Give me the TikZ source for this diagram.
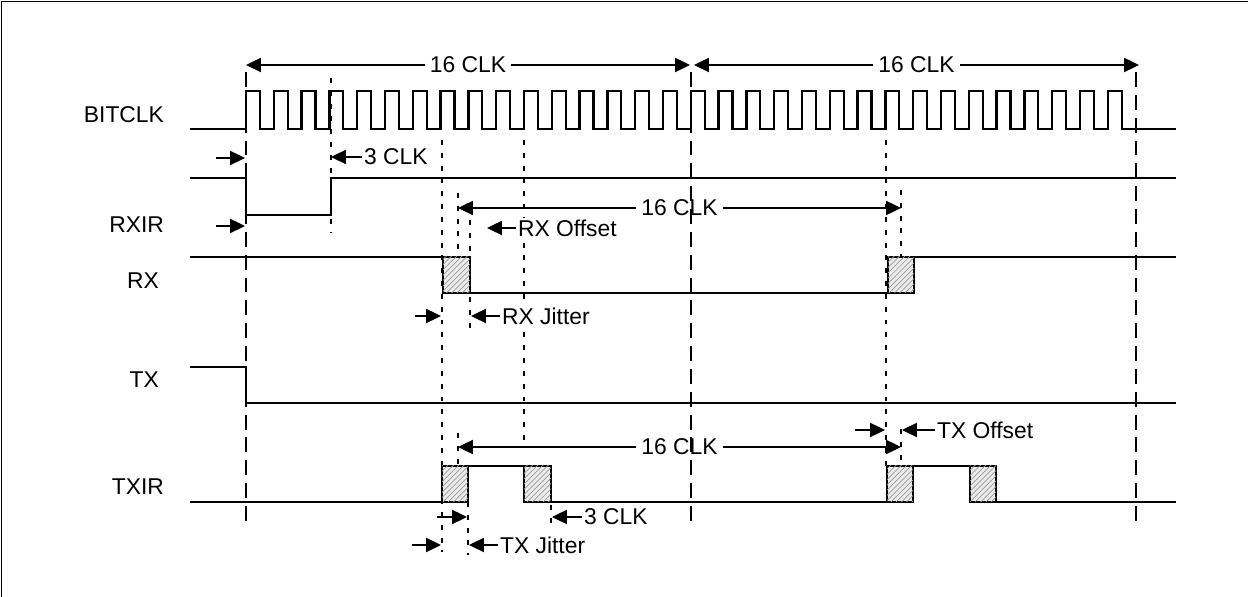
\documentclass[tikz,border=0pt]{standalone}
\usepackage{fontspec}
\setmainfont{Liberation Sans}
\usetikzlibrary{arrows.meta,patterns}

\tikzset{
  sig/.style={line width=1.3pt},
  grid line/.style={line width=1.1pt, dash pattern=on 8.5pt off 4.5pt},
  mark line/.style={line width=1.1pt, dash pattern=on 2.8pt off 4.5pt},
  dim/.style={line width=1.1pt, -{Triangle[length=8.5pt,width=8pt]}},
  dimboth/.style={line width=1.1pt, {Triangle[length=8.5pt,width=8pt]}-{Triangle[length=8.5pt,width=8pt]}},
  lbl/.style={font=\fontsize{13}{15}\selectfont, inner sep=1pt},
  note/.style={lbl, fill=white, anchor=west},
  hatch/.style={sig, fill=gray!15, postaction={pattern=north east lines, pattern color=gray!80}}
}

\begin{document}
\begin{tikzpicture}[x=0.02cm, y=-0.02cm]
  \useasboundingbox (0,0) rectangle (1248,597);
  \draw[line width=0.6pt] (1.5,597) -- (1.5,1.5) -- (1248,1.5);

  % signal names
  \node[lbl, anchor=east] (bitclk) at (166,115) {BITCLK};
  \node[lbl, anchor=east] (rxir) at (166,225) {RXIR};
  \node[lbl, anchor=east] (rx) at (161,281) {RX};
  \node[lbl, anchor=east] (tx) at (161,380) {TX};
  \node[lbl, anchor=east] (txir) at (166,487) {TXIR};

  % 16 CLK spans
  \coordinate (f0) at (246,65);
  \coordinate (f1) at (690,65);
  \coordinate (f2) at (694,65);
  \coordinate (f3) at (1139,65);
  \draw[dimboth] (f0) -- node[lbl, fill=white, inner sep=3pt] (span1) {16 CLK} (f1);
  \draw[dimboth] (f2) -- node[lbl, fill=white, inner sep=3pt] (span2) {16 CLK} (f3);
  \coordinate (rs) at (458,208);
  \coordinate (re) at (901,208);
  \draw[dimboth] (rs) -- node[lbl, fill=white, inner sep=3pt] (rspan) {16 CLK} (re);
  \coordinate (ts) at (458,447);
  \coordinate (te) at (901,447);
  \draw[dimboth] (ts) -- node[lbl, fill=white, inner sep=3pt] (tspan) {16 CLK} (te);

  % frame boundaries and marks
  \foreach \x in {246,691,1136} \draw[grid line] (\x,72) -- (\x,527);
  \draw[mark line] (331,78) -- (331,232);
  \draw[mark line] (442,140) -- (442,552);
  \draw[mark line] (524,140) -- (524,440);
  \draw[mark line] (886,140) -- (886,466);
  \draw[mark line] (458,193) -- (458,257);
  \draw[mark line] (470,220) -- (470,330);
  \draw[mark line] (901,190) -- (901,257);
  \draw[mark line] (901,429) -- (901,466);
  \draw[mark line] (458,433) -- (458,466);
  \draw[mark line] (468,502) -- (468,555);
  \draw[mark line] (551,505) -- (551,528);

  % BITCLK
  \draw[sig] (190,129) -- (246,129)
    \foreach \i in {0,...,31} { -- ({246+27.8*\i},129) -- ({246+27.8*\i},90.7)
      -- ({259.9+27.8*\i},90.7) -- ({259.9+27.8*\i},129) }
    -- (1176,129);

  % RXIR
  \draw[sig] (190,178) -- (246,178) -- (246,215) -- (331,215) -- (331,178) -- (1176,178);

  % RX
  \draw[sig] (190,257) -- (443,257);
  \draw[hatch] (443,257) rectangle (470,293);
  \draw[sig] (470,293) -- (888,293);
  \draw[hatch] (888,257) rectangle (914,293);
  \draw[sig] (914,257) -- (1176,257);

  % TX
  \draw[sig] (190,367) -- (246,367) -- (246,403) -- (1176,403);

  % TXIR
  \draw[sig] (190,502) -- (442,502);
  \draw[hatch] (442,466) rectangle (468,502);
  \draw[sig] (468,466) -- (524,466);
  \draw[hatch] (524,466) rectangle (551,502);
  \draw[sig] (551,502) -- (887,502);
  \draw[hatch] (887,466) rectangle (913,502);
  \draw[sig] (913,466) -- (970,466);
  \draw[hatch] (970,466) rectangle (996,502);
  \draw[sig] (996,502) -- (1176,502);

  % 3 CLK after frame start
  \draw[dim] (216,158) -- (245,158);
  \node[note] (clkA) at (362,157) {3 CLK};
  \draw[dim] (clkA.west) -- (331,157);
  \draw[dim] (216,226) -- (245,226);

  % RX offset and jitter
  \node[note] (rxoff) at (516,228) {RX Offset};
  \draw[dim] (rxoff.west) -- (487,228);
  \draw[dim] (415,316) -- (441,316);
  \node[note] (rxjit) at (500,316) {RX Jitter};
  \draw[dim] (rxjit.west) -- (471,316);

  % TX offset and jitter
  \draw[dim] (855,430) -- (885,430);
  \node[note] (txoff) at (935,430) {TX Offset};
  \draw[dim] (txoff.west) -- (902,430);
  \draw[dim] (437,517) -- (467,517);
  \draw[dim] (412,545) -- (441,545);
  \node[note] (txjit) at (498,545) {TX Jitter};
  \draw[dim] (txjit.west) -- (469,545);
  \node[note] (clkB) at (582,517) {3 CLK};
  \draw[dim] (clkB.west) -- (552,517);
\end{tikzpicture}
\end{document}
